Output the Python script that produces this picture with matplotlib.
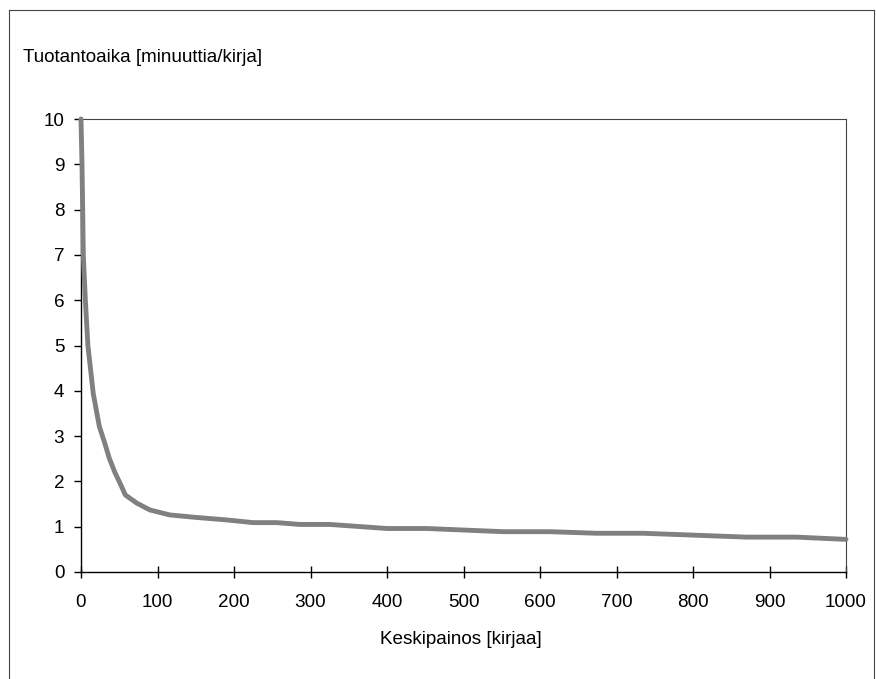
import matplotlib.pyplot as plt
from matplotlib.lines import Line2D

plt.rcParams['font.family'] = ['Liberation Sans', 'DejaVu Sans']

# data
painos = [0, 1.3, 2.2, 3, 5.7, 9, 12.6, 16, 24, 31, 37, 44, 51, 58, 73, 90, 116,
          147, 190, 225, 256, 286, 325, 400, 452, 552, 613, 674, 735, 870, 935, 1000]
aika = [10, 9.0, 8.0, 7.0, 6.0, 5.0, 4.46, 3.94, 3.21, 2.85, 2.51, 2.21, 1.96,
        1.70, 1.52, 1.37, 1.26, 1.21, 1.15, 1.09, 1.09, 1.05, 1.05, 0.96, 0.96,
        0.89, 0.89, 0.855, 0.855, 0.77, 0.77, 0.72]
xticks = list(range(0, 1001, 100))
yticks = list(range(0, 11))

W, H = 876, 679
fs = 13.6
fig = plt.figure(figsize=(W / 100, H / 100), dpi=100)
ax = fig.add_axes([81 / W, 1 - 572 / H, (846 - 81) / W, (572 - 119) / H])

ax.plot(painos, aika, color="#808080", lw=3.5, solid_capstyle="round", clip_on=False, zorder=3)

ax.set_xlim(0, 1000)
ax.set_ylim(0, 10)
ax.set_xticks(xticks)
ax.set_yticks(yticks)
ax.tick_params(axis="x", direction="inout", length=9, width=1, labelsize=fs, pad=11)
ax.tick_params(axis="y", direction="out", length=5, width=1, labelsize=fs, pad=7)
for s in ax.spines.values():
    s.set_linewidth(1)
ax.spines["top"].set_color("#444444")
ax.spines["right"].set_color("#444444")
ax.spines["top"].set_linewidth(0.8)
ax.spines["right"].set_linewidth(0.8)

fig.text(23 / W, 1 - 58 / H, "Tuotantoaika [minuuttia/kirja]", fontsize=fs, va="center", ha="left")
fig.text(461 / W, 1 - 640 / H, "Keskipainos [kirjaa]", fontsize=fs, va="center", ha="center")

# outer chart frame (left, top, right)
x0, x1, yt = 8.5 / W, 873.5 / W, 1 - 9.5 / H
frame = dict(color="#444444", lw=0.8, transform=fig.transFigure)
fig.add_artist(Line2D([x0, x0], [0, yt], **frame))
fig.add_artist(Line2D([x0, x1], [yt, yt], **frame))
fig.add_artist(Line2D([x1, x1], [0, yt], **frame))

fig.savefig("out.png", dpi=100)
